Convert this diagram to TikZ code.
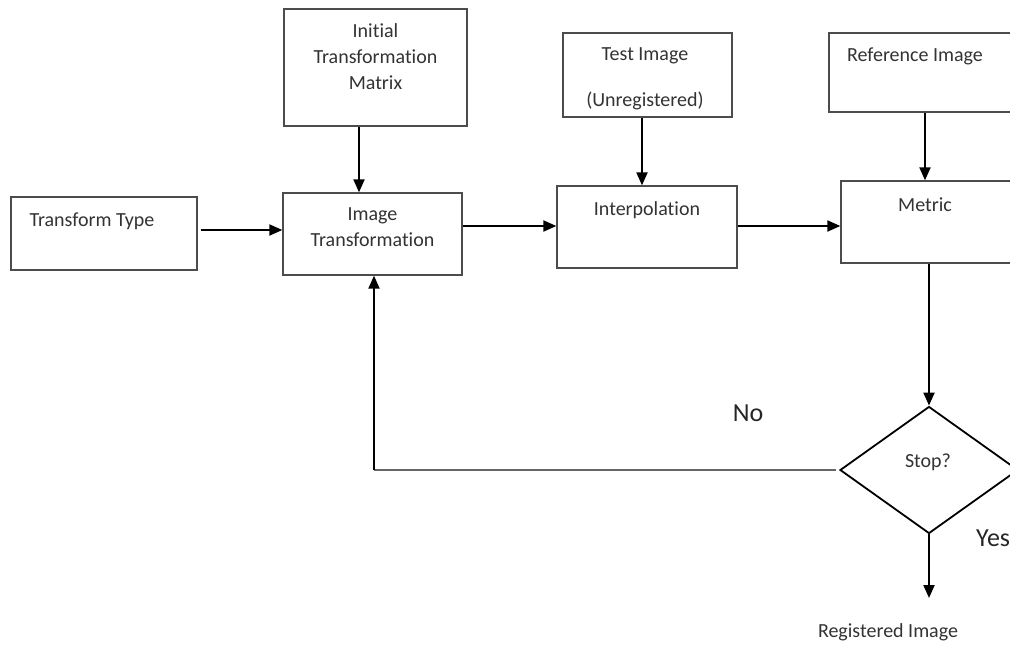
\documentclass[tikz,border=0pt]{standalone}
\usepackage{fontspec}
\setmainfont{Carlito}[Ligatures={NoCommon,NoRequired,NoContextual}]
\usetikzlibrary{arrows.meta,shapes.geometric,calc}
\begin{document}
\begin{tikzpicture}[x=1pt,y=-1pt,
  box/.style={draw=black!70,line width=1.3pt,rectangle,inner sep=0pt},
  arr/.style={draw=black,line width=2pt,-{Triangle[length=13pt,width=11pt]}},
  txt/.style={text=black!80,font=\fontsize{20}{26}\selectfont,align=center,inner sep=0pt},
  big/.style={text=black!85,font=\fontsize{26}{30}\selectfont,inner sep=0pt}]
\clip (0,0) rectangle (1010,646);
\fill[white] (0,0) rectangle (1010,646);
% boxes
\node[box,minimum width=186pt,minimum height=73pt] (tt) at (104,233.5) {};
\node[box,minimum width=183pt,minimum height=117pt] (init) at (375.5,67.5) {};
\node[box,minimum width=179pt,minimum height=82pt] (imgT) at (372.5,234) {};
\node[box,minimum width=169pt,minimum height=84pt] (test) at (647.5,75) {};
\node[box,minimum width=180pt,minimum height=82pt] (interp) at (647,227) {};
\node[box,minimum width=201pt,minimum height=79pt] (ref) at (929.5,72.5) {};
\node[box,minimum width=189pt,minimum height=82pt] (metric) at (935.5,222) {};
\node[draw=black,line width=1.8pt,shape=diamond,minimum width=178pt,minimum height=127pt,inner sep=0pt] (stop) at (929,470) {};
% texts
\node[txt] (ttT) at (92,221) {Transform Type};
\node[txt] (initT) at (375.5,57) {Initial\\Transformation\\Matrix};
\node[txt] (imgTT) at (372.5,227) {Image\\Transformation};
\node[txt] (testT1) at (645,56) {Test Image};
\node[txt] (testT2) at (645,101) {(Unregistered)};
\node[txt] (interpT) at (647,210) {Interpolation};
\node[txt] (refT) at (915,56) {Reference Image};
\node[txt] (metricT) at (925,205) {Metric};
\node[txt] (stopT) at (928,462) {Stop?};
\node[big] (no) at (748,413) {No};
\node[big,anchor=west] (yes) at (976,538) {Yes};
\node[txt] (regT) at (888,632) {Registered Image};
% connectors
\coordinate (fb) at (374,470);
\coordinate (regEnd) at (929,598);
\draw[arr] ([xshift=3pt]tt.east |- 0,230) -- (imgT.west |- 0,230);
\draw[arr] (init.south -| 359,0) -- (imgT.north -| 359,0);
\draw[arr] (imgT.east |- 0,226) -- (interp.west |- 0,226);
\draw[arr] (test.south -| 642,0) -- (interp.north -| 642,0);
\draw[arr] (interp.east |- 0,226) -- (metric.west |- 0,226);
\draw[arr] (ref.south -| 925,0) -- (metric.north -| 925,0);
\draw[arr] (metric.south -| stop.north) -- (stop.north);
\draw[draw=black!60,line width=1.5pt] ([xshift=-3pt]stop.west) -- (fb);
\draw[arr] (fb) -- (imgT.south -| fb);
\draw[arr] (stop.south) -- (regEnd);
\end{tikzpicture}
\end{document}
